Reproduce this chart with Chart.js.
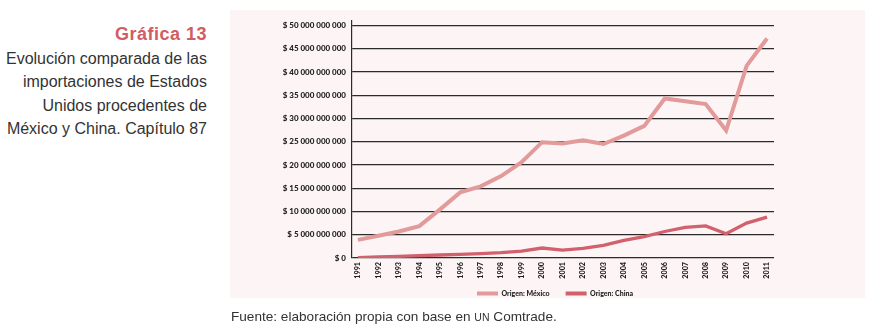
<!DOCTYPE html>
<html><head><meta charset="utf-8">
<script src="https://cdn.jsdelivr.net/npm/chart.js@4.4.1/dist/chart.umd.min.js"></script>
<style>
html,body{margin:0;padding:0;background:#fff;width:873px;height:330px;overflow:hidden;}
#panel{position:absolute;left:230px;top:10px;width:635px;height:288px;background:#fdf5f5;}
#wrap{position:absolute;left:230px;top:10px;width:635px;height:303px;}
#side{position:absolute;right:666px;top:23px;text-align:right;font-family:"Liberation Sans",Arial,sans-serif;color:#333;font-size:16px;line-height:23.5px;white-space:nowrap;}
#side .t{color:#d15c62;font-weight:bold;font-size:18px;letter-spacing:0.5px;}
#src{position:absolute;left:231px;top:309px;font-family:"Liberation Sans",Arial,sans-serif;font-size:13.6px;color:#333;white-space:nowrap;}
#src .sc{font-size:10.5px;}
</style></head>
<body>
<div id="panel"></div>
<div id="side"><div class="t">Gráfica 13</div>Evolución comparada de las<br>importaciones de Estados<br>Unidos procedentes de<br>México y China. Capítulo 87</div>
<div id="wrap"><canvas id="c" width="635" height="303"></canvas></div>
<div id="src">Fuente: elaboración propia con base en <span class="sc">UN</span> Comtrade.</div>
<script>
const years = [1991,1992,1993,1994,1995,1996,1997,1998,1999,2000,2001,2002,2003,2004,2005,2006,2007,2008,2009,2010,2011];
const mexico = [3.9e9,4.8e9,5.7e9,6.85e9,10.4e9,14.1e9,15.4e9,17.6e9,20.6e9,24.9e9,24.6e9,25.3e9,24.5e9,26.3e9,28.4e9,34.3e9,33.7e9,33.1e9,27.4e9,41.3e9,47.2e9];
const china = [0.1e9,0.25e9,0.35e9,0.5e9,0.65e9,0.8e9,0.95e9,1.15e9,1.5e9,2.15e9,1.7e9,2.05e9,2.7e9,3.8e9,4.6e9,5.7e9,6.6e9,6.9e9,5.2e9,7.5e9,8.8e9];
const seriesNames = ['Origen: México','Origen: China'];
const yTicks = [0,5e9,10e9,15e9,20e9,25e9,30e9,35e9,40e9,45e9,50e9];

const colMex = '#e29a9a';
const colChn = '#d2606d';
const fmt = v => '$ ' + String(Math.round(v)).replace(/\B(?=(\d{3})+(?!\d))/g, ' ');

const legendShift = {
  id: 'legendShift',
  afterLayout(chart) { const l = chart.legend; if (l) { l.top -= 6; l.bottom -= 6; } }
};

new Chart(document.getElementById('c'), {
  type: 'line',
  data: {
    datasets: [
      {label: seriesNames[0], data: years.map((y,i)=>({x:y,y:mexico[i]})), borderColor: colMex, backgroundColor: colMex, borderWidth: 4, pointRadius: 0, tension: 0, fill: false},
      {label: seriesNames[1], data: years.map((y,i)=>({x:y,y:china[i]})), borderColor: colChn, backgroundColor: colChn, borderWidth: 3.3, pointRadius: 0, tension: 0, fill: false}
    ]
  },
  plugins: [legendShift],
  options: {
    responsive: false,
    animation: false,
    devicePixelRatio: 1,
    layout: {padding: {left: 50, right: 35, top: 9, bottom: 0}},
    plugins: {
      tooltip: {enabled: false},
      legend: {
        position: 'bottom',
        labels: {
          boxWidth: 21, boxHeight: 4, padding: 16, color: '#222',
          font: {family: 'Lato', weight: '900', size: 7},
          generateLabels: (chart) => {
            const items = Chart.defaults.plugins.legend.labels.generateLabels(chart);
            items.forEach(it => { it.lineWidth = 0; it.fillStyle = it.strokeStyle; });
            return items;
          }
        }
      }
    },
    scales: {
      x: {
        type: 'linear', min: 1990.71, max: 2011.34,
        afterBuildTicks: s => { s.ticks = years.map(v => ({value: v})); },
        afterFit: s => { s.height = 22; },
        grid: {display: false, drawTicks: false},
        border: {display: false},
        ticks: {autoSkip: false, minRotation: 90, maxRotation: 90, padding: 4, color: '#222',
          font: {family: 'Lato', weight: '900', size: 7.2}, callback: v => String(v)}
      },
      y: {
        min: 0, max: 51e9,
        afterBuildTicks: s => { s.ticks = yTicks.map(v => ({value: v})); },
        afterFit: s => { s.width = 72; },
        grid: {color: '#2b2b2b', lineWidth: 1.2, drawTicks: false},
        border: {display: true, color: '#2b2b2b', width: 1.2},
        ticks: {padding: 6, color: '#222', font: {family: 'Lato', weight: '900', size: 8}, callback: v => fmt(v)}
      },
      yRightSpacer: {
        position: 'right', display: true,
        afterFit: s => { s.width = 56; },
        grid: {display: false, drawTicks: false},
        border: {display: false},
        ticks: {display: false}
      }
    }
  }
});
</script>
</body></html>
